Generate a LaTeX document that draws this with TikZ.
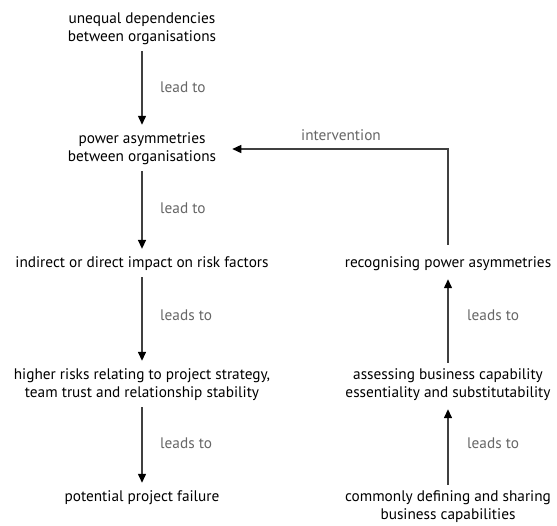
\documentclass[tikz,border=0pt]{standalone}
\usepackage{fontspec}
\setmainfont{PT Sans}
\usetikzlibrary{arrows.meta}
\definecolor{linegray}{HTML}{404040}
\definecolor{labelgray}{HTML}{666666}

\begin{document}
\begin{tikzpicture}[x=1pt,y=-1pt,
  stage/.style={align=center, inner sep=0pt, font=\fontsize{15.3}{18}\selectfont},
  note/.style={anchor=west, inner sep=0pt, text=labelgray, font=\fontsize{15.3}{18}\selectfont},
  flow/.style={draw=linegray, line width=1.4pt, shorten <=6pt, shorten >=8pt,
    -{Triangle[width=8pt,length=9pt,color=black]}}]
  \useasboundingbox (0,0) rectangle (557,525);
  % left column: consequences
  \node[stage] (udep) at (142,29) {unequal dependencies\\between organisations};
  \node[stage] (pasym) at (142,149) {power asymmetries\\between organisations};
  \node[stage] (impact) at (142,264) {indirect or direct impact on risk factors};
  \node[stage] (risks) at (142,385) {higher risks relating to project strategy,\\team trust and relationship stability};
  \node[stage] (fail) at (142,498) {potential project failure};
  % right column: remedy
  \node[stage] (recog) at (448,264) {recognising power asymmetries};
  \node[stage] (assess) at (448,385) {assessing business capability\\essentiality and substitutability};
  \node[stage] (define) at (448,507) {commonly defining and sharing\\business capabilities};
  % connectors
  \draw[flow] (udep) -- (pasym);
  \draw[flow] (pasym) -- (impact);
  \draw[flow] (impact) -- (risks);
  \draw[flow] (risks) -- (fail);
  \draw[flow] (define) -- (assess);
  \draw[flow] (assess) -- (recog);
  \draw[flow, shorten <=12pt, shorten >=16pt] (recog.north) |- (pasym.east);
  % labels
  \node[note] (lab1) at (160,87) {lead to};
  \node[note] (lab2) at (160,208) {lead to};
  \node[note] (lab3) at (160,315) {leads to};
  \node[note] (lab4) at (160,443) {leads to};
  \node[note] (lab5) at (467,315) {leads to};
  \node[note] (lab6) at (467,443) {leads to};
  \node[note, anchor=center] (lab7) at (341,135) {intervention};
\end{tikzpicture}
\end{document}
